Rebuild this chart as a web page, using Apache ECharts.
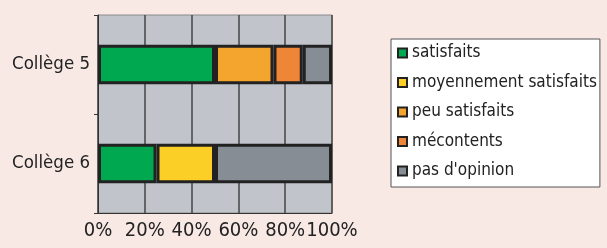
<!DOCTYPE html>
<html>
<head>
<meta charset="utf-8">
<script src="https://cdn.jsdelivr.net/npm/echarts@6/dist/echarts.min.js"></script>
<style>
  html, body { margin: 0; padding: 0; background: #f8e9e5; }
  #main { width: 607px; height: 248px; }
</style>
</head>
<body>
<div id="main"></div>
<script>
// catégories et résultats (en %)
var colleges = ['Collège 5', 'Collège 6']
var satisfaits = [50, 25]
var moyennement = [0, 25]
var peuSatisfaits = [25, 0]
var mecontents = [12.5, 0]
var sansOpinion = [12.5, 50]

var seriesNames = ['satisfaits', 'moyennement satisfaits', 'peu satisfaits', 'mécontents', "pas d'opinion"]
var seriesData = [satisfaits, moyennement, peuSatisfaits, mecontents, sansOpinion]
var colors = ['#00a84f', '#fccf26', '#f4a52e', '#ef8536', '#878d94']

var font = '"DejaVu Sans Condensed", "Liberation Sans Narrow", sans-serif'

var myChart = echarts.init(document.getElementById('main'))

var series = seriesNames.map(function (name, i) {
  return {
    name: name,
    type: 'bar',
    stack: 'total',
    barWidth: '40%',
    // les valeurs nulles ne sont pas dessinées
    data: seriesData[i].map(function (v) { return v === 0 ? '-' : v }),
    itemStyle: { color: colors[i], borderColor: '#222', borderWidth: 3 }
  }
})

var option = {
  backgroundColor: '#f8e9e5',
  animation: false,
  textStyle: { fontFamily: font },
  grid: {
    left: 98, right: 275, top: 15, bottom: 35,
    show: true,
    backgroundColor: '#c1c4cb',
    borderColor: '#8a8a8a',
    borderWidth: 1
  },
  legend: {
    orient: 'vertical',
    left: 391, top: 39,
    backgroundColor: '#ffffff',
    borderColor: '#555',
    borderWidth: 1,
    padding: [4, 3, 6, 6],
    icon: 'rect',
    itemWidth: 9,
    itemHeight: 9,
    itemGap: 9.5,
    itemStyle: { borderColor: '#222', borderWidth: 2 },
    textStyle: { fontFamily: font, fontSize: 17, lineHeight: 20, color: '#222' },
    data: seriesNames
  },
  xAxis: {
    type: 'value',
    min: 0, max: 100, interval: 20,
    axisLine: { show: true, lineStyle: { color: '#333' } },
    axisTick: { show: false },
    axisLabel: { formatter: '{value}%', fontFamily: font, fontSize: 20, color: '#222', margin: 8 },
    splitLine: { lineStyle: { color: '#444', width: 1.5 } }
  },
  yAxis: {
    type: 'category',
    inverse: true,
    data: colleges,
    axisLine: { show: true, lineStyle: { color: '#333', width: 1 } },
    axisTick: { show: true, length: 4, lineStyle: { color: '#333' } },
    axisLabel: { fontFamily: font, fontSize: 18.5, color: '#222', margin: 8 }
  },
  series: series
}

myChart.setOption(option)
</script>
</body>
</html>
